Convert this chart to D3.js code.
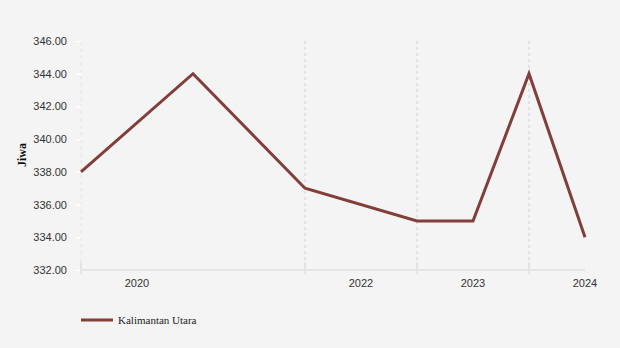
<!DOCTYPE html>
<html><head><meta charset="utf-8">
<script src="https://cdn.jsdelivr.net/npm/d3@7"></script>
<style>body{margin:0;background:#f4f4f4;}svg{display:block;}</style>
</head><body>
<svg id="c" width="620" height="348"></svg>
<script>
const periods = [2019.5, 2020.5, 2021.5, 2022.5, 2023, 2023.5, 2024];
const values = [338, 344, 337, 335, 335, 344, 334];
const seriesName = "Kalimantan Utara";
const yTicks = [332, 334, 336, 338, 340, 342, 344, 346];
const xGrid = [2021.5, 2022.5, 2023.5];
const xTickMarks = [2019.5, 2021.5, 2022.5, 2023.5];
const xLabels = [2020, 2022, 2023, 2024];
const yTitle = "Jiwa";

const svg = d3.select("#c");
svg.append("rect").attr("width",620).attr("height",348).attr("fill","#f4f4f4");
const x = d3.scaleLinear().domain([2019.5, 2024]).range([81, 585]);
const y = d3.scaleLinear().domain([332, 346]).range([270, 41]);

// vertical grid
svg.append("g").selectAll("line").data(xGrid).join("line")
  .attr("x1",d=>x(d)).attr("x2",d=>x(d)).attr("y1",41).attr("y2",270)
  .attr("stroke","#dcdcdc").attr("stroke-width",1.5).attr("stroke-dasharray","3,3");
// y axis line
svg.append("line").attr("x1",81).attr("x2",81).attr("y1",41).attr("y2",270)
  .attr("stroke","#e6e6e6").attr("stroke-width",1).attr("stroke-dasharray","4,3");
// y ticks
const yAxis = d3.axisLeft(y).tickValues(yTicks).tickFormat(d3.format(".2f")).tickSize(5).tickPadding(9);
const gy = svg.append("g").attr("transform","translate(81,0)").call(yAxis);
gy.select(".domain").remove();
gy.selectAll("line").attr("stroke","#ffffff").attr("stroke-width",1.5);
gy.selectAll("text").attr("font-family","'Liberation Sans',Arial,sans-serif").attr("font-size",11).attr("fill","#333");

// x axis baseline
svg.append("line").attr("x1",81).attr("x2",585).attr("y1",270).attr("y2",270)
  .attr("stroke","#e4e4e4").attr("stroke-width",2);
svg.append("g").selectAll("line").data(xTickMarks).join("line")
  .attr("x1",d=>x(d)).attr("x2",d=>x(d)).attr("y1",262).attr("y2",274)
  .attr("stroke","#e0e0e0").attr("stroke-width",1.5);
svg.append("g").selectAll("text").data(xLabels).join("text")
  .attr("x",d=>x(d)).attr("y",287).attr("text-anchor","middle")
  .attr("font-family","'Liberation Sans',Arial,sans-serif").attr("font-size",11).attr("fill","#333")
  .text(d=>d);

// y title
svg.append("text").attr("transform","translate(26,155) rotate(-90)").attr("text-anchor","middle")
  .attr("font-family","'Liberation Serif','Times New Roman',serif").attr("font-weight","bold")
  .attr("font-size",12).attr("fill","#111").text(yTitle);

// line
const line = d3.line().x((d,i)=>x(periods[i])).y(d=>y(d));
svg.append("path").datum(values).attr("d",line).attr("fill","none")
  .attr("stroke","#823e38").attr("stroke-width",3).attr("stroke-linejoin","miter");

// legend
svg.append("line").attr("x1",81).attr("x2",113).attr("y1",320).attr("y2",320)
  .attr("stroke","#823e38").attr("stroke-width",3);
svg.append("text").attr("x",118).attr("y",324).attr("font-family","'Liberation Serif','Times New Roman',serif")
  .attr("font-size",11).attr("fill","#222").text(seriesName);
</script>
</body></html>
